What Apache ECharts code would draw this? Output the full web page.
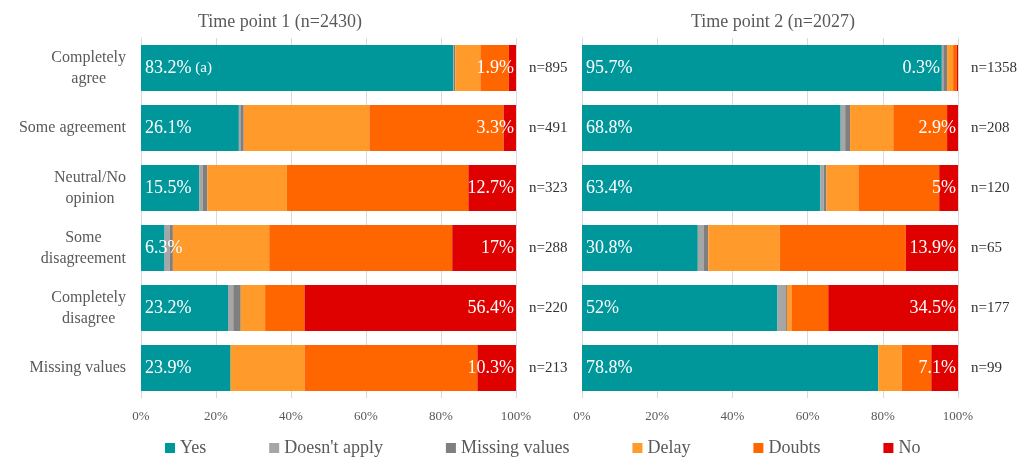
<!DOCTYPE html>
<html>
<head>
<meta charset="utf-8">
<script src="https://cdn.jsdelivr.net/npm/echarts@6/dist/echarts.min.js"></script>
<style>
  html, body { margin: 0; padding: 0; background: #fff; }
  #chart { width: 1031px; height: 465px; }
</style>
</head>
<body>
<div id="chart"></div>
<script>
// categories (top to bottom)
const categories = ['Completely\nagree', 'Some agreement', 'Neutral/No\nopinion', 'Some\ndisagreement', 'Completely\ndisagree', 'Missing values'];
const seriesNames = ['Yes', "Doesn't apply", 'Missing values', 'Delay', 'Doubts', 'No'];
const colors = ['#00979b', '#a6a6a6', '#7f7f7f', '#ff9a2b', '#ff6600', '#df0000'];

// Time point 1 (%)
const t1Yes = [83.2, 26.1, 15.5, 6.3, 23.2, 23.9];
const t1NA = [0.2, 0.4, 0.9, 1.3, 1.4, 0];
const t1Miss = [0.4, 0.9, 1.3, 0.9, 2.0, 0];
const t1Delay = [6.7, 33.5, 21.2, 25.7, 6.5, 19.7];
const t1Doubts = [7.6, 35.8, 48.4, 48.8, 10.5, 46.1];
const t1No = [1.9, 3.3, 12.7, 17, 56.4, 10.3];
const t1Notes = ['(a)', '', '', '', '', ''];
const nT1 = [895, 491, 323, 288, 220, 213];

// Time point 2 (%)
const t2Yes = [95.7, 68.8, 63.4, 30.8, 52, 78.8];
const t2NA = [0.4, 1.2, 0.9, 1.5, 2.1, 0];
const t2Miss = [1.0, 1.3, 0.7, 1.3, 0.4, 0];
const t2Delay = [1.6, 11.5, 8.5, 19, 1.2, 6.2];
const t2Doubts = [1.0, 14.3, 21.5, 33.5, 9.8, 7.9];
const t2No = [0.3, 2.9, 5, 13.9, 34.5, 7.1];
const nT2 = [1358, 208, 120, 65, 177, 99];

const titles = ['Time point 1 (n=2430)', 'Time point 2 (n=2027)'];

const FONT = 'Liberation Serif';
const labelStyle = { color: '#fff', fontFamily: FONT, fontSize: 18 };

function yesSeries(values, notes, idx) {
  return {
    name: 'Yes', type: 'bar', stack: 's' + idx, xAxisIndex: idx, yAxisIndex: idx * 2,
    barWidth: 46, itemStyle: { color: colors[0] },
    data: values,
    label: Object.assign({
      show: true, position: 'insideLeft', distance: 4,
      formatter: p => {
        const note = notes ? notes[p.dataIndex] : '';
        return note ? '{v|' + p.value + '%}{a| ' + note + '}' : '{v|' + p.value + '%}';
      },
      rich: {
        v: { color: '#fff', fontFamily: FONT, fontSize: 18 },
        a: { color: '#fff', fontFamily: FONT, fontSize: 15 }
      }
    }, labelStyle)
  };
}

function plainSeries(name, values, idx, ci) {
  return {
    name: name, type: 'bar', stack: 's' + idx, xAxisIndex: idx, yAxisIndex: idx * 2,
    barWidth: 46, itemStyle: { color: colors[ci] }, data: values
  };
}

function noSeries(values, idx, shiftFirst) {
  return {
    name: 'No', type: 'bar', stack: 's' + idx, xAxisIndex: idx, yAxisIndex: idx * 2,
    barWidth: 46, itemStyle: { color: colors[5] },
    data: values.map((v, i) => (i === 0 && shiftFirst) ? { value: v, label: { offset: [-16, 0] } } : v),
    label: Object.assign({
      show: true, position: 'insideRight', distance: 2,
      formatter: p => p.value + '%'
    }, labelStyle)
  };
}

function build(idx, yes, notes, na, miss, delay, doubts, no) {
  return [
    yesSeries(yes, notes, idx),
    plainSeries("Doesn't apply", na, idx, 1),
    plainSeries('Missing values', miss, idx, 2),
    plainSeries('Delay', delay, idx, 3),
    plainSeries('Doubts', doubts, idx, 4),
    noSeries(no, idx, idx === 1)
  ];
}

function xAxis(gi) {
  return {
    type: 'value', gridIndex: gi, min: 0, max: 100, interval: 20,
    axisLine: { show: false }, axisTick: { show: false },
    axisLabel: { formatter: '{value}%', color: '#595959', fontFamily: FONT, fontSize: 13, margin: 12 },
    splitLine: { lineStyle: { color: '#d9d9d9' } }
  };
}

function catAxis(gi, showLabels) {
  return {
    type: 'category', gridIndex: gi, data: categories, inverse: true,
    axisLine: { show: true, lineStyle: { color: '#d9d9d9' } }, axisTick: { show: false },
    axisLabel: {
      show: showLabels, margin: 15, color: '#595959', fontFamily: FONT, fontSize: 16, lineHeight: 21,
      formatter: v => v.split('\n').map(s => '{c|' + s + '}').join('\n'),
      rich: { c: { align: 'center', color: '#595959', fontFamily: FONT, fontSize: 16, lineHeight: 21 } }
    }
  };
}

function nAxis(gi, nVals) {
  return {
    type: 'category', gridIndex: gi, position: 'right', inverse: true,
    data: nVals.map(n => 'n=' + n),
    axisLine: { show: false }, axisTick: { show: false },
    axisLabel: { margin: 13, color: '#333', fontFamily: FONT, fontSize: 15 }
  };
}

const chart = echarts.init(document.getElementById('chart'));
chart.setOption({
  animation: false,
  title: [
    { text: titles[0], left: 275, top: 8, textAlign: 'center', textStyle: { color: '#595959', fontFamily: FONT, fontSize: 18, fontWeight: 'normal' } },
    { text: titles[1], left: 768, top: 8, textAlign: 'center', textStyle: { color: '#595959', fontFamily: FONT, fontSize: 18, fontWeight: 'normal' } }
  ],
  legend: {
    bottom: 3, left: 160, itemWidth: 10, itemHeight: 10, itemGap: 63, icon: 'rect',
    data: seriesNames,
    textStyle: { color: '#595959', fontFamily: FONT, fontSize: 18 }
  },
  grid: [
    { left: 141, right: 515, top: 38, bottom: 67 },
    { left: 582, right: 73, top: 38, bottom: 67 }
  ],
  xAxis: [xAxis(0), xAxis(1)],
  yAxis: [catAxis(0, true), nAxis(0, nT1), catAxis(1, false), nAxis(1, nT2)],
  series: [].concat(
    build(0, t1Yes, t1Notes, t1NA, t1Miss, t1Delay, t1Doubts, t1No),
    build(1, t2Yes, null, t2NA, t2Miss, t2Delay, t2Doubts, t2No)
  )
});
</script>
</body>
</html>
